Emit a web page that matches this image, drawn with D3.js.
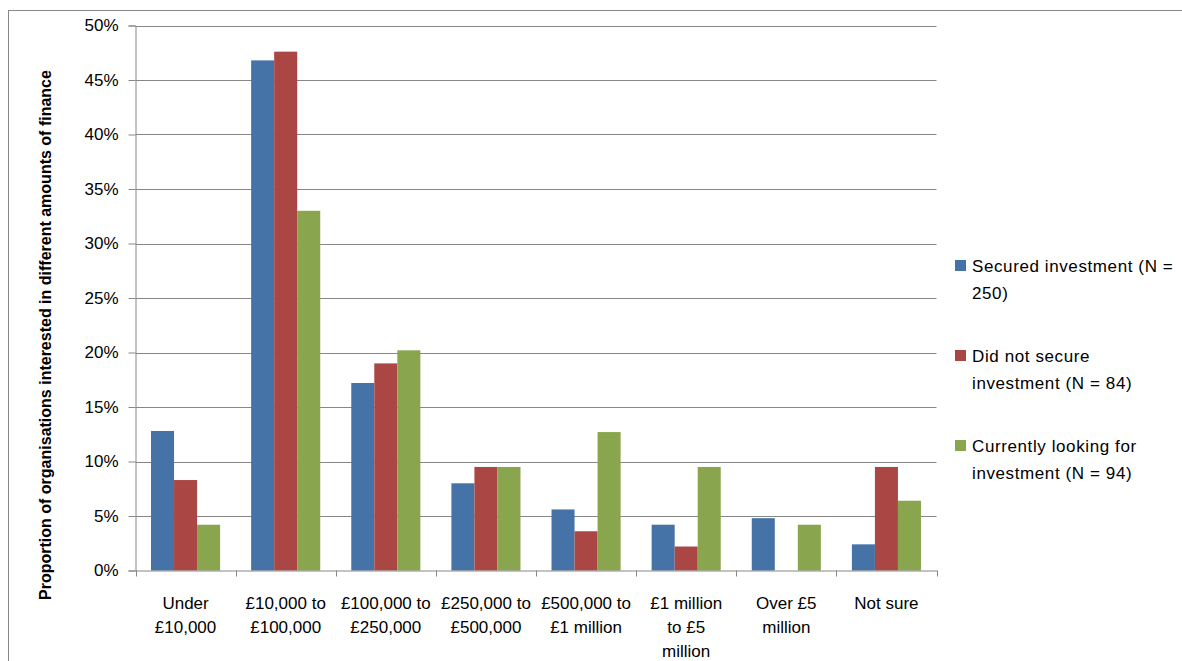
<!DOCTYPE html>
<html>
<head>
<meta charset="utf-8">
<script src="https://cdn.jsdelivr.net/npm/d3@7/dist/d3.min.js"></script>
<style>
  html, body { margin: 0; padding: 0; background: #fff; }
  svg { display: block; }
  text { font-family: "Liberation Sans", Arial, sans-serif; fill: #000; }
</style>
</head>
<body>
<svg id="chart" width="1182" height="661"></svg>
<script>
const categories = [
  ["Under", "£10,000"],
  ["£10,000 to", "£100,000"],
  ["£100,000 to", "£250,000"],
  ["£250,000 to", "£500,000"],
  ["£500,000 to", "£1 million"],
  ["£1 million", "to £5", "million"],
  ["Over £5", "million"],
  ["Not sure"]
];
const seriesNames = [
  ["Secured investment (N =", "250)"],
  ["Did not secure", "investment (N = 84)"],
  ["Currently looking for", "investment (N = 94)"]
];
const securedValues = [12.8, 46.8, 17.2, 8.0, 5.6, 4.2, 4.8, 2.4];
const notSecuredValues = [8.3, 47.6, 19.0, 9.5, 3.6, 2.2, 0, 9.5];
const lookingValues = [4.2, 33.0, 20.2, 9.5, 12.7, 9.5, 4.2, 6.4];
const yTicks = [0, 5, 10, 15, 20, 25, 30, 35, 40, 45, 50];
const colors = ["#4572A7", "#AA4643", "#89A54E"];

const series = [securedValues, notSecuredValues, lookingValues];

const svg = d3.select("#chart");

// outer frame
svg.append("line").attr("x1", 8.5).attr("x2", 8.5).attr("y1", 10).attr("y2", 661)
  .attr("stroke", "#888").attr("stroke-width", 1);
svg.append("line").attr("x1", 8).attr("x2", 1182).attr("y1", 10.5).attr("y2", 10.5)
  .attr("stroke", "#888").attr("stroke-width", 1);

const plotLeft = 135.5, plotRight = 936.5, plotTop = 25.5, plotBottom = 570.5;

const x = d3.scaleBand().domain(d3.range(categories.length)).range([plotLeft, plotRight]).paddingInner(0).paddingOuter(0);
const inner = d3.scaleBand().domain(d3.range(series.length)).range([0, x.bandwidth() * 0.69]);
const groupOffset = (x.bandwidth() - x.bandwidth() * 0.69) / 2;
const y = d3.scaleLinear().domain([0, 50]).range([plotBottom, plotTop]);

// gridlines
svg.append("g").selectAll("line").data(yTicks.filter(d => d > 0)).join("line")
  .attr("x1", plotLeft).attr("x2", plotRight)
  .attr("y1", d => Math.round(y(d)) + 0.5).attr("y2", d => Math.round(y(d)) + 0.5)
  .attr("stroke", "#878787").attr("stroke-width", 1);

// y axis
const yAxis = d3.axisLeft(y).tickValues(yTicks).tickFormat(d => d + "%").tickSize(7).tickPadding(10);
const gy = svg.append("g").attr("transform", `translate(${plotLeft},0)`).call(yAxis);
gy.select(".domain").attr("stroke", "#878787");
gy.selectAll(".tick line").attr("stroke", "#878787");
gy.selectAll(".tick text").attr("font-size", 17).attr("font-family", "Liberation Sans, Arial, sans-serif").attr("fill", "#000");

// bars
const groups = svg.append("g").selectAll("g").data(series).join("g")
  .attr("fill", (d, i) => colors[i]);
groups.each(function(vals, si) {
  d3.select(this).selectAll("rect").data(vals).join("rect")
    .attr("x", (d, ci) => x(ci) + groupOffset + inner(si))
    .attr("width", inner.bandwidth())
    .attr("y", d => y(d))
    .attr("height", d => y(0) - y(d));
});

// x axis
const xAxis = d3.axisBottom(x).tickFormat("").tickSize(0);
const gx = svg.append("g").attr("transform", `translate(0,${plotBottom})`).call(xAxis);
gx.select(".domain").attr("stroke", "#878787");
gx.selectAll(".tick").remove();
// category boundary ticks
svg.append("g").selectAll("line").data(d3.range(categories.length + 1)).join("line")
  .attr("x1", i => Math.round(plotLeft + i * x.bandwidth()) + 0.5)
  .attr("x2", i => Math.round(plotLeft + i * x.bandwidth()) + 0.5)
  .attr("y1", plotBottom).attr("y2", plotBottom + 6)
  .attr("stroke", "#878787");

// category labels
const catG = svg.append("g").selectAll("text").data(categories).join("text")
  .attr("text-anchor", "middle")
  .attr("font-size", 17)
  .attr("x", (d, i) => x(i) + x.bandwidth() / 2)
  .attr("y", 609);
catG.selectAll("tspan").data(d => d).join("tspan")
  .attr("x", function() { return d3.select(this.parentNode).attr("x"); })
  .attr("dy", (d, i) => i === 0 ? 0 : 24)
  .text(d => d);

// y axis title
svg.append("text")
  .attr("transform", `translate(51,335) rotate(-90)`)
  .attr("text-anchor", "middle")
  .attr("font-size", 16)
  .attr("font-weight", "bold")
  .text("Proportion of organisations interested in different amounts of finance");

// legend
const legendY = [266, 356, 446];
const leg = svg.append("g").selectAll("g").data(seriesNames).join("g")
  .attr("transform", (d, i) => `translate(955,${legendY[i]})`);
leg.append("rect").attr("x", 0).attr("y", -6).attr("width", 11).attr("height", 11)
  .attr("fill", (d, i) => colors[i]);
const lt = leg.append("text").attr("x", 17).attr("y", 6).attr("font-size", 17).attr("letter-spacing", 0.6);
lt.selectAll("tspan").data(d => d).join("tspan")
  .attr("x", 17).attr("dy", (d, i) => i === 0 ? 0 : 27)
  .text(d => d);
</script>
</body>
</html>
